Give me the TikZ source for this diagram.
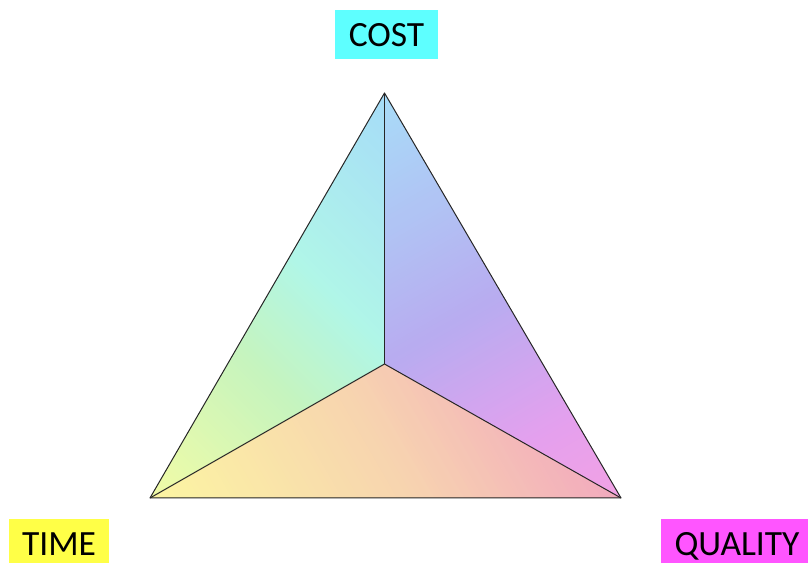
\documentclass[tikz,border=0pt]{standalone}
\usepackage{fontspec}
\setmainfont{Carlito}
\definecolor{lA}{HTML}{F2FCA6}
\definecolor{lB}{HTML}{C6F4BE}
\definecolor{lC}{HTML}{B0F6E8}
\definecolor{lD}{HTML}{A6DCF8}
\definecolor{rA}{HTML}{A8DCF8}
\definecolor{rB}{HTML}{B8ACF0}
\definecolor{rC}{HTML}{E4A0EE}
\definecolor{rD}{HTML}{F2A2E4}
\definecolor{bA}{HTML}{FCF6A2}
\definecolor{bB}{HTML}{F7D2B0}
\definecolor{bC}{HTML}{F2AABE}
\definecolor{costc}{HTML}{5EFFFF}
\definecolor{timec}{HTML}{FFFF47}
\definecolor{qualc}{HTML}{FF55FF}
\newcommand\gradseg[5]{%
  \foreach \i in {1,...,#5}{%
    \pgfmathsetmacro\ua{#1+(\i-1)*(#2-#1)/#5}%
    \pgfmathsetmacro\ub{#1+\i*(#2-#1)/#5+0.6}%
    \pgfmathsetmacro\pc{100*(\i-0.5)/#5}%
    \fill[color=#4!\pc!#3] (\ua,-1000) rectangle (\ub,1000);
  }}
\begin{document}
\begin{tikzpicture}[x=1pt,y=1pt,
  edge/.style={draw=black!85,line width=1pt,line join=round},
  lab/.style={inner sep=0pt,minimum height=49pt,text height=22.4pt,text depth=0pt,font=\fontsize{35.5}{38}\selectfont}]
\useasboundingbox (0,0) rectangle (808,562);
\coordinate (T) at (384.5,469);
\coordinate (L) at (150,64);
\coordinate (R) at (621,64);
\coordinate (C) at (384.5,198);
% left face
\begin{scope}
  \clip (T)--(L)--(C)--cycle;
  \begin{scope}[rotate=45]
    \fill[lA] (0,-1000) rectangle (151.5,1000);
    \gradseg{151}{318}{lA}{lB}{40}
    \gradseg{318}{424}{lB}{lC}{30}
    \gradseg{424}{603}{lC}{lD}{40}
    \fill[lD] (603,-1000) rectangle (800,1000);
  \end{scope}
\end{scope}
% right face
\begin{scope}
  \clip (T)--(C)--(R)--cycle;
  \begin{scope}[rotate=-60]
    \fill[rA] (-500,-1000) rectangle (-213.5,1000);
    \gradseg{-214}{21}{rA}{rB}{50}
    \gradseg{21}{160}{rB}{rC}{35}
    \gradseg{160}{255}{rC}{rD}{25}
    \fill[rD] (255,-1000) rectangle (600,1000);
  \end{scope}
\end{scope}
% bottom face
\begin{scope}
  \clip (L)--(C)--(R)--cycle;
  \begin{scope}[rotate=30]
    \fill[bA] (0,-1000) rectangle (162.5,1000);
    \gradseg{162}{400}{bA}{bB}{50}
    \gradseg{400}{570}{bB}{bC}{40}
    \fill[bC] (570,-1000) rectangle (900,1000);
  \end{scope}
\end{scope}
\draw[edge] (T)--(L)--(R)--cycle;
\draw[edge] (C)--(T);
\draw[edge] (C)--(L);
\draw[edge] (C)--(R);
\node[lab,fill=costc,minimum width=103pt] (cost) at (386.5,527) {COST};
\node[lab,fill=timec,minimum width=100pt] (time) at (59,18) {TIME};
\node[lab,fill=qualc,minimum width=152pt] (qual) at (737,18) {QUALITY};
\end{tikzpicture}
\end{document}
